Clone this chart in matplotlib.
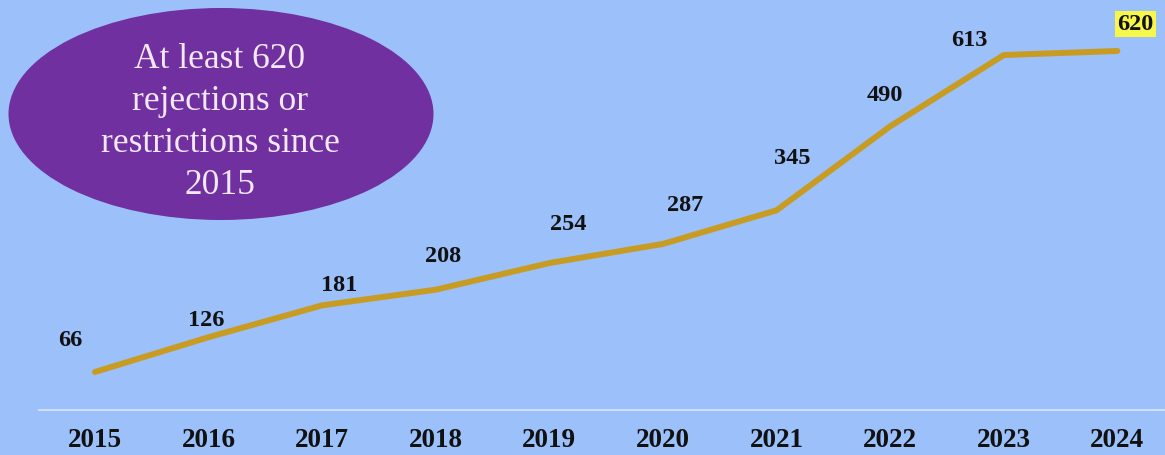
import matplotlib
matplotlib.use("Agg")
import matplotlib.pyplot as plt
from matplotlib.patches import Ellipse

years = ["2015", "2016", "2017", "2018", "2019", "2020", "2021", "2022", "2023", "2024"]
counts = [66, 126, 181, 208, 254, 287, 345, 490, 613, 620]
callout = "At least 620\nrejections or\nrestrictions since\n2015"

# label offsets in pixels (layout only)
label_offsets = [(-25, 32), (-2, 18), (17, 21), (7, 34), (19, 40),
                 (22, 39), (16, 53), (-5, 32), (-34, 16), (18, 27)]

BG = "#9CC0FA"
LINE = "#C89C22"
PURPLE = "#7030A0"

fig = plt.figure(figsize=(11.65, 4.56), dpi=100)
fig.patch.set_facecolor(BG)
ax = fig.add_axes([0, 0, 1, 1])
ax.set_facecolor(BG)
ax.set_xlim(-0.836, 9.419)
ax.set_ylim(-77.3, 709.7)
ax.axis("off")

x = list(range(len(years)))
ax.hlines(0, -0.50, 9.419, color="#DCE6FA", lw=1.2, zorder=1)
ax.plot(x, counts, color=LINE, lw=4.3, solid_capstyle="round", zorder=3)

serif = ["Liberation Serif", "DejaVu Serif"]
for i, (yr, v) in enumerate(zip(years, counts)):
    ax.text(i, -50, yr, ha="center", va="center", fontsize=19.5,
            fontweight="bold", family=serif, color="#111111")
    dx, dy = label_offsets[i]
    kw = {}
    if i == len(years) - 1:
        kw["bbox"] = dict(boxstyle="square,pad=0.1", fc="#F7F74A", ec="none")
    ax.annotate(str(v), (i, v), xytext=(dx, dy), textcoords="offset pixels",
                ha="center", va="center", fontsize=17.5, fontweight="bold",
                family=serif, color="#111111", zorder=4, **kw)

ell = Ellipse((221 / 1165, 1 - 115 / 456), 425 / 1165, 212 / 456,
              transform=ax.transAxes, facecolor=PURPLE, edgecolor="none", zorder=2)
ax.add_patch(ell)
ax.text(220 / 1165, 1 - 123 / 456, callout, transform=ax.transAxes,
        ha="center", va="center", fontsize=25.5, family=serif,
        color="#F2E8F8", linespacing=1.36, zorder=3)

fig.savefig("out.png", dpi=100, facecolor=BG)
